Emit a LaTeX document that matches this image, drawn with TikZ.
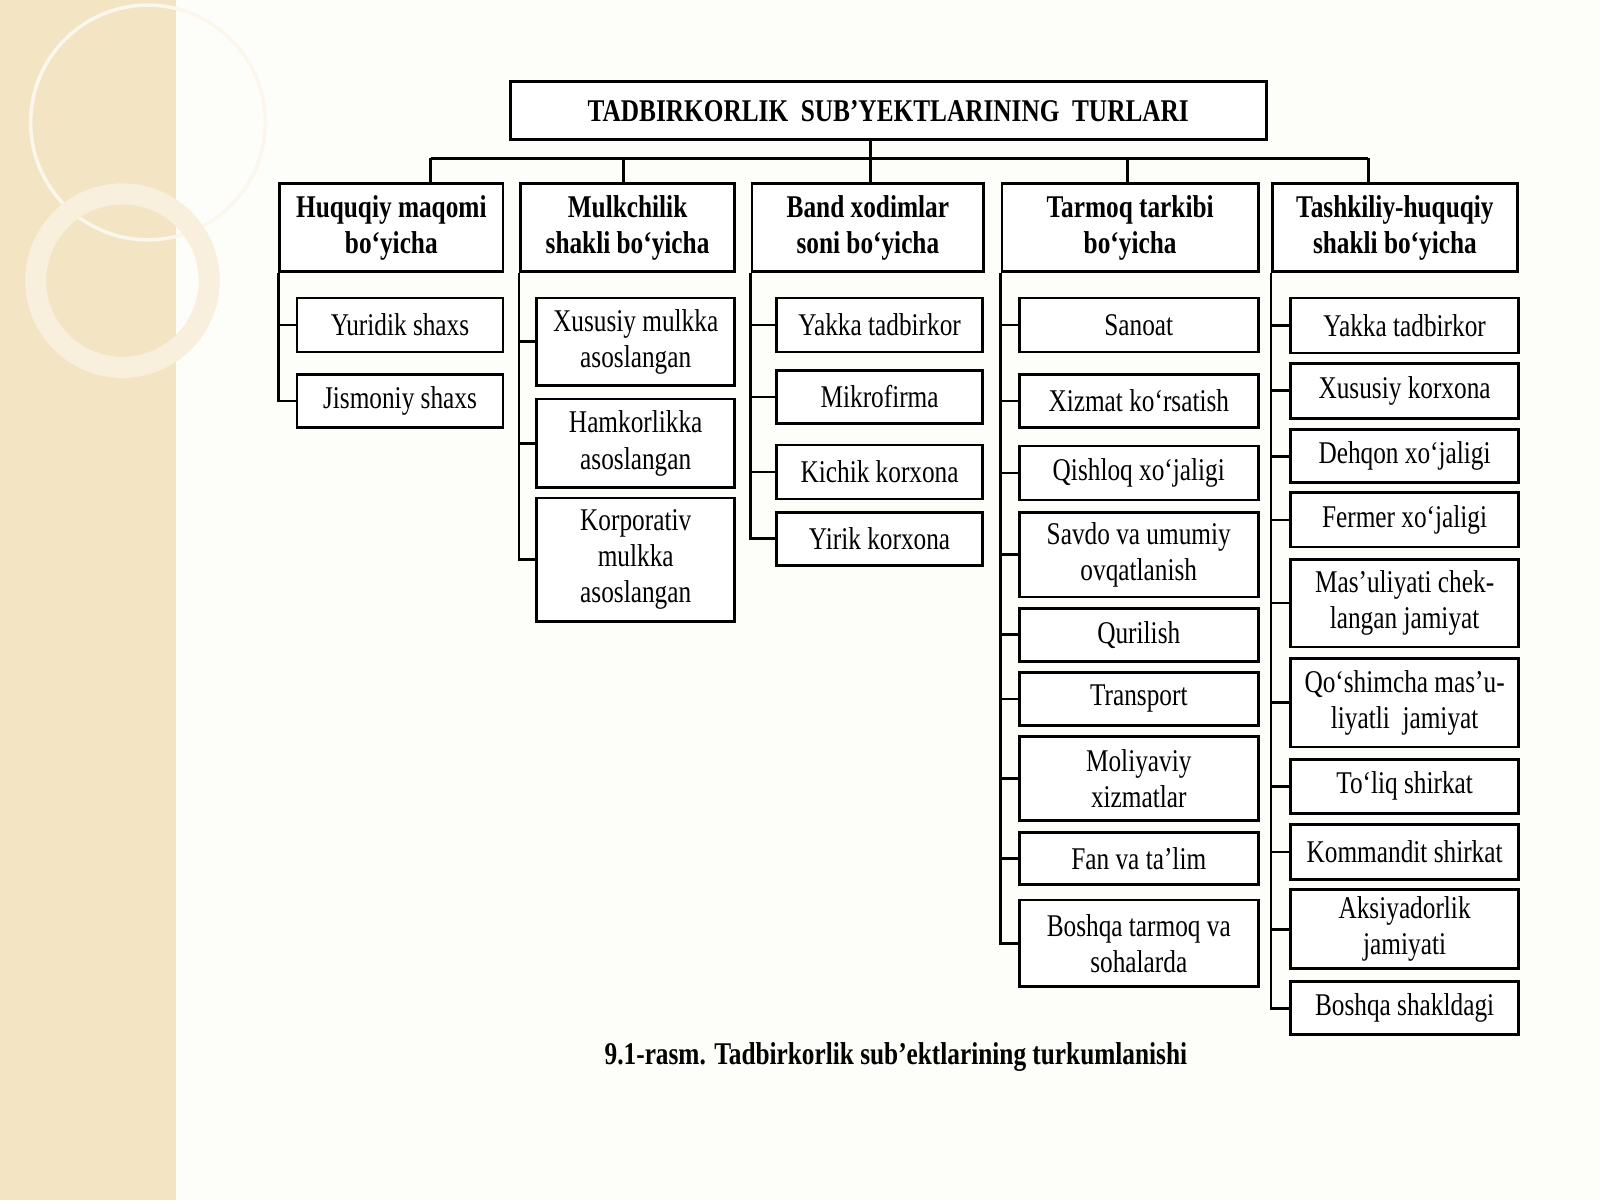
\documentclass[tikz,border=0pt]{standalone}
\usepackage{fontspec}
\setmainfont{Liberation Serif}[FakeStretch=0.8]
\usetikzlibrary{positioning}
\definecolor{beige}{RGB}{243,228,196}
\definecolor{paper}{RGB}{253,253,250}

% box from pixel edges: name, left, right, top, bottom, text
\newcommand{\bx}[6]{\node[box,minimum width={(#3-#2)*0.010204cm},minimum height={(#5-#4)*0.010204cm}] (#1) at ({(#2+#3)/2},{(#4+#5)/2}) {#6};}

\begin{document}
\begin{tikzpicture}[x=0.010204cm,y=-0.010204cm]
\tikzset{box/.style={draw,thick,fill=white,inner sep=1pt,align=center,font=\fontsize{9}{10.3}\selectfont},
head/.style={font=\fontsize{9}{11}\selectfont\bfseries},
link/.style={thick}}

% background
\fill[paper] (0,0) rectangle (1568,1176);
\useasboundingbox (0,0) rectangle (1568,1176);
\fill[beige] (0,0) rectangle (172,1176);
\draw[white!70!beige,line width=1pt] (145,120) circle (115);
\draw[white!40!beige,line width=6pt] (120,275) circle (85);

% title
\bx{title}{500}{1241}{80}{137}{\bfseries TADBIRKORLIK\ \ SUB'YEKTLARINING\ \ TURLARI}

% headers
\bx{h1}{274}{493}{180}{266}{\bfseries Huquqiy maqomi\\\bfseries bo`yicha}
\bx{h2}{510}{720}{180}{266}{\bfseries Mulkchilik\\\bfseries shakli bo`yicha}
\bx{h3}{737}{964}{180}{266}{\bfseries Band xodimlar\\\bfseries soni bo`yicha}
\bx{h4}{982}{1233}{180}{266}{\bfseries Tarmoq tarkibi\\\bfseries bo`yicha}
\bx{h5}{1247}{1487}{180}{266}{\bfseries Tashkiliy-huquqiy\\\bfseries shakli bo`yicha}

% bus
\coordinate (bus) at (853,155);
\draw[link] (bus) -- (853,137);
\draw[link] (422,155) -- (1341,155);
\foreach \x/\h in {422/h1,611/h2,853/h3,1105/h4,1341/h5} \draw[link] (\x,155) -- (\x,180);

% children
\foreach \n/\t/\b/\txt in {a1/292/345/Yuridik shaxs,a2/367/419/Jismoniy shaxs}
  {\bx{\n}{291}{493}{\t}{\b}{\txt} \draw[link] (h1.south west) |- (\n.west);}
\foreach \n/\t/\b/\txt in {b1/292/378/{Xususiy mulkka\\asoslangan},b2/391/478/{Hamkorlikka\\asoslangan},b3/488/609/{Korporativ\\mulkka\\asoslangan}}
  {\bx{\n}{526}{720}{\t}{\b}{\txt} \draw[link] (h2.south west) |- (\n.west);}
\foreach \n/\t/\b/\txt in {c1/292/345/Yakka tadbirkor,c2/363/415/Mikrofirma,c3/436/489/Kichik korxona,c4/502/554/Yirik korxona}
  {\bx{\n}{761}{963}{\t}{\b}{\txt} \draw[link] (h3.south west) |- (\n.west);}
\foreach \n/\t/\b/\txt in {d1/292/345/Sanoat,d2/367/419/Xizmat ko`rsatish,d3/437/490/Qishloq xo`jaligi,d4/502/585/{Savdo va umumiy\\ovqatlanish},d5/596/648/Qurilish,d6/659/711/Transport,d7/722/804/{Moliyaviy\\xizmatlar},d8/816/867/Fan va ta'lim,d9/882/967/{Boshqa tarmoq va\\sohalarda}}
  {\bx{\n}{999}{1233}{\t}{\b}{\txt} \draw[link] (h4.south west) |- (\n.west);}
\foreach \n/\t/\b/\txt in {e1/292/346/Yakka tadbirkor,e2/356/410/Xususiy korxona,e3/421/473/Dehqon xo`jaligi,e4/483/536/Fermer xo`jaligi,e5/548/634/{Mas'uliyati chek-\\langan jamiyat},e6/645/732/{Qo`shimcha mas'u-\\liyatli\ \ jamiyat},e7/744/797/To`liq shirkat,e8/808/862/Kommandit shirkat,e9/872/949/{Aksiyadorlik\\jamiyati},e10/962/1014/Boshqa shakldagi}
  {\bx{\n}{1265}{1488}{\t}{\b}{\txt} \draw[link] (h5.south west) |- (\n.west);}

% caption
\node[head] (caption) at (878,1036) {9.1-rasm. Tadbirkorlik sub'ektlarining turkumlanishi};
\end{tikzpicture}
\end{document}
